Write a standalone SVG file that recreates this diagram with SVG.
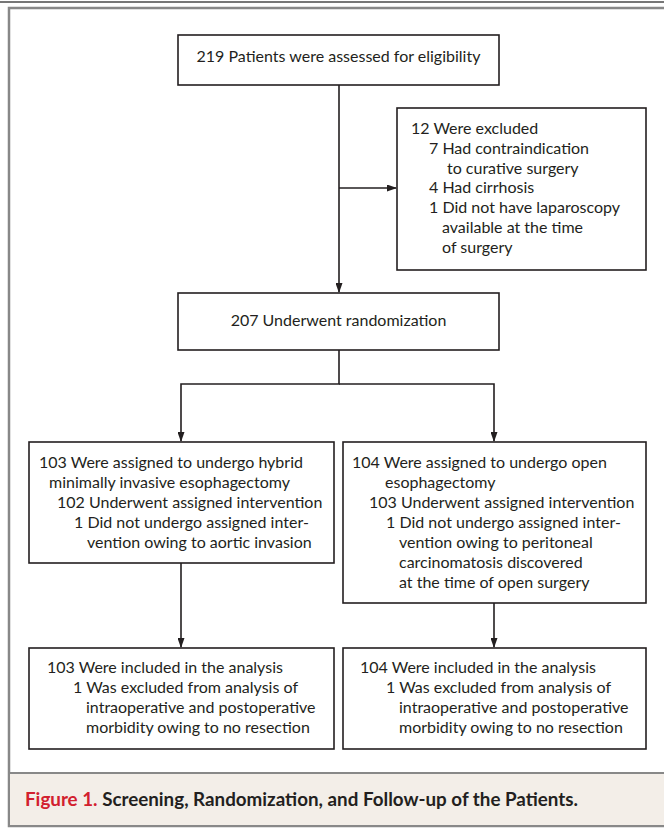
<svg xmlns="http://www.w3.org/2000/svg" width="664" height="828" viewBox="0 0 664 828">
<defs>
<marker id="ah" markerWidth="10" markerHeight="7" refX="9" refY="3.5" orient="auto" markerUnits="userSpaceOnUse">
<path d="M0,0 L10,3.5 L0,7 Z" fill="#231f20"/>
</marker>
<style>
.box{fill:#fff;stroke:#231f20;stroke-width:1.6}
.t{font-family:Lato,"Liberation Sans",sans-serif;font-size:16px;fill:#231f20}
.c{stroke:#231f20;stroke-width:1.6;fill:none}
.cap{font-family:Lato,"Liberation Sans",sans-serif;font-size:18.8px;font-weight:bold}
</style>
</defs>
<rect x="0" y="0" width="664" height="828" fill="#fff"/>
<line x1="0" y1="2" x2="664" y2="2" stroke="#777" stroke-width="2"/>
<rect x="9" y="8" width="670" height="818" fill="#fff" stroke="#888" stroke-width="2.5"/>
<rect x="9" y="773" width="670" height="53" fill="#f3eee8" stroke="#888" stroke-width="2"/>
<text class="cap" x="25" y="806"><tspan fill="#d2202e">Figure 1.</tspan><tspan fill="#231f20"> Screening, Randomization, and Follow-up of the Patients.</tspan></text>

<g id="connectors">
<line class="c" x1="339" y1="85" x2="339" y2="292" marker-end="url(#ah)"/>
<line class="c" x1="339" y1="188" x2="396" y2="188" marker-end="url(#ah)"/>
<polyline class="c" points="339,350 339,384 181,384 181,441" marker-end="url(#ah)"/>
<polyline class="c" points="339,384 494,384 494,441" marker-end="url(#ah)"/>
<line class="c" x1="181" y1="563" x2="181" y2="647" marker-end="url(#ah)"/>
<line class="c" x1="494" y1="603" x2="494" y2="647" marker-end="url(#ah)"/>
</g>

<g id="assessed">
<rect class="box" x="178" y="35" width="321" height="50"/>
<text class="t" x="338.5" y="62" text-anchor="middle">219 Patients were assessed for eligibility</text>
</g>

<g id="excluded">
<rect class="box" x="397" y="108" width="249" height="162"/>
<text class="t" x="411" y="134">12 Were excluded</text>
<text class="t" x="429" y="154">7 Had contraindication</text>
<text class="t" x="447" y="174">to curative surgery</text>
<text class="t" x="429" y="193">4 Had cirrhosis</text>
<text class="t" x="429" y="213">1 Did not have laparoscopy</text>
<text class="t" x="442" y="233">available at the time</text>
<text class="t" x="442" y="253">of surgery</text>
</g>

<g id="randomization">
<rect class="box" x="178" y="293" width="321" height="57"/>
<text class="t" x="338.5" y="326" text-anchor="middle">207 Underwent randomization</text>
</g>

<g id="hybrid">
<rect class="box" x="29" y="442" width="305" height="121"/>
<text class="t" x="39" y="468">103 Were assigned to undergo hybrid</text>
<text class="t" x="49" y="488">minimally invasive esophagectomy</text>
<text class="t" x="57" y="508">102 Underwent assigned intervention</text>
<text class="t" x="74" y="528">1 Did not undergo assigned inter-</text>
<text class="t" x="87" y="548">vention owing to aortic invasion</text>
</g>

<g id="open">
<rect class="box" x="343" y="442" width="303" height="161"/>
<text class="t" x="352" y="468">104 Were assigned to undergo open</text>
<text class="t" x="385" y="488">esophagectomy</text>
<text class="t" x="369" y="508">103 Underwent assigned intervention</text>
<text class="t" x="386" y="528">1 Did not undergo assigned inter-</text>
<text class="t" x="399" y="548">vention owing to peritoneal</text>
<text class="t" x="399" y="568">carcinomatosis discovered</text>
<text class="t" x="399" y="588">at the time of open surgery</text>
</g>

<g id="analysis-hybrid">
<rect class="box" x="29" y="648" width="305" height="101"/>
<text class="t" x="47" y="673">103 Were included in the analysis</text>
<text class="t" x="73" y="693">1 Was excluded from analysis of</text>
<text class="t" x="86" y="713">intraoperative and postoperative</text>
<text class="t" x="86" y="733">morbidity owing to no resection</text>
</g>

<g id="analysis-open">
<rect class="box" x="343" y="648" width="303" height="101"/>
<text class="t" x="360" y="673">104 Were included in the analysis</text>
<text class="t" x="386" y="693">1 Was excluded from analysis of</text>
<text class="t" x="399" y="713">intraoperative and postoperative</text>
<text class="t" x="399" y="733">morbidity owing to no resection</text>
</g>
</svg>
